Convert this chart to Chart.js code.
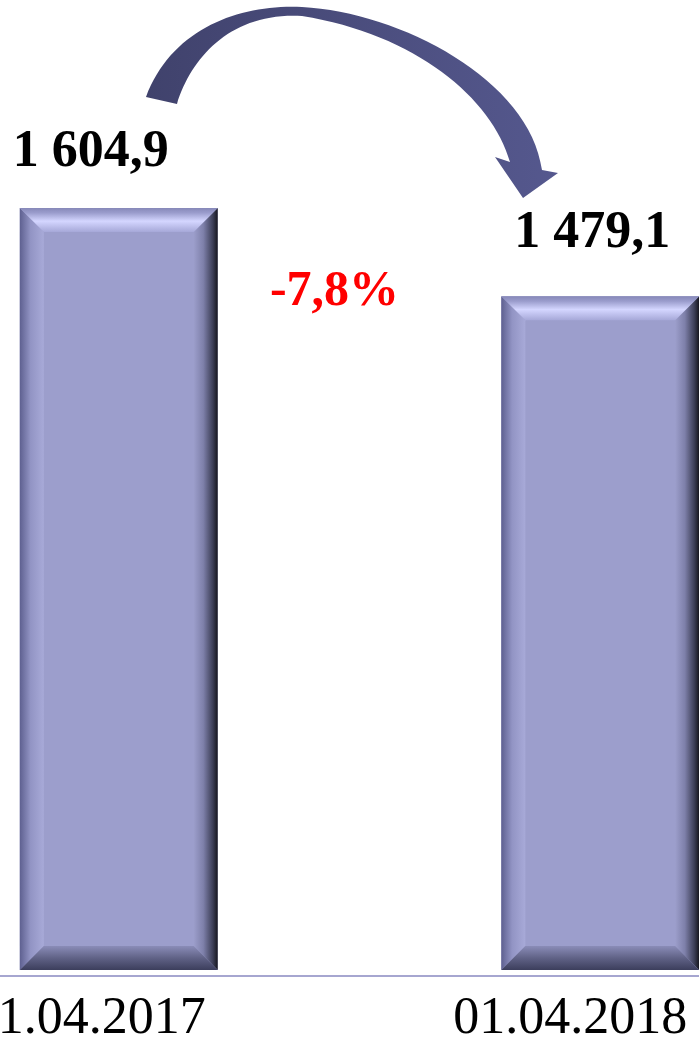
<!DOCTYPE html>
<html>
<head>
<meta charset="utf-8">
<script src="https://cdn.jsdelivr.net/npm/chart.js@4/dist/chart.umd.min.js"></script>
<style>
  html, body { margin: 0; padding: 0; background: #fff; overflow: hidden; width: 699px; height: 1043px; }
  #wrap { position: absolute; left: -122px; top: 0; }
</style>
</head>
<body>
<div id="wrap"><canvas id="chart" width="963" height="1068"></canvas></div>
<script>
// Данные
const dates = ['01.04.2017', '01.04.2018'];
const values = [1604.9, 1479.1];
const yRange = [520, 1901];

const SHIFT = 122; // canvas starts left of the visible page

function fmt(v) {
    const parts = v.toFixed(1).split('.');
    return parts[0].replace(/\B(?=(\d{3})+(?!\d))/g, ' ') + ',' + parts[1];
}

// bevel on every bar
const bevelPlugin = {
    id: 'bevel',
    afterDatasetsDraw(chart) {
        const ctx = chart.ctx;
        const b = 24;
        const area = chart.chartArea;
        chart.getDatasetMeta(0).data.forEach(bar => {
            const l = bar.x - bar.width / 2, r = bar.x + bar.width / 2;
            const t = bar.y, bot = Math.min(bar.base, area.bottom);
            ctx.save();
            let g;
            // left
            g = ctx.createLinearGradient(l, 0, l + b, 0);
            g.addColorStop(0, '#5e6090');
            g.addColorStop(0.45, '#9294c4');
            g.addColorStop(1, '#a8aad8');
            ctx.fillStyle = g;
            ctx.beginPath();
            ctx.moveTo(l, t); ctx.lineTo(l + b, t + b); ctx.lineTo(l + b, bot - b); ctx.lineTo(l, bot);
            ctx.closePath(); ctx.fill();
            // right
            g = ctx.createLinearGradient(r - b, 0, r, 0);
            g.addColorStop(0, '#9c9ecb');
            g.addColorStop(0.4, '#7e80aa');
            g.addColorStop(0.8, '#3c3e56');
            g.addColorStop(1, '#16161d');
            ctx.fillStyle = g;
            ctx.beginPath();
            ctx.moveTo(r, t); ctx.lineTo(r - b, t + b); ctx.lineTo(r - b, bot - b); ctx.lineTo(r, bot);
            ctx.closePath(); ctx.fill();
            // top
            g = ctx.createLinearGradient(0, t, 0, t + b);
            g.addColorStop(0, '#8688b8');
            g.addColorStop(0.2, '#9a9ccc');
            g.addColorStop(0.55, '#d4d6ff');
            g.addColorStop(1, '#a6a8d8');
            ctx.fillStyle = g;
            ctx.beginPath();
            ctx.moveTo(l, t); ctx.lineTo(r, t); ctx.lineTo(r - b, t + b); ctx.lineTo(l + b, t + b);
            ctx.closePath(); ctx.fill();
            // bottom
            g = ctx.createLinearGradient(0, bot - b, 0, bot);
            g.addColorStop(0, '#8a8cb8');
            g.addColorStop(0.5, '#606286');
            g.addColorStop(1, '#3c3e5c');
            ctx.fillStyle = g;
            ctx.beginPath();
            ctx.moveTo(l, bot); ctx.lineTo(r, bot); ctx.lineTo(r - b, bot - b); ctx.lineTo(l + b, bot - b);
            ctx.closePath(); ctx.fill();
            ctx.restore();
        });
    }
};

// подписи, стрелка, линия оси
const notesPlugin = {
    id: 'notes',
    afterDraw(chart) {
        const ctx = chart.ctx;
        const bars = chart.getDatasetMeta(0).data;
        const area = chart.chartArea;
        ctx.save();

        // axis line
        ctx.strokeStyle = '#a6a6d0';
        ctx.lineWidth = 2;
        ctx.beginPath();
        ctx.moveTo(area.left, area.bottom + 6);
        ctx.lineTo(area.right, area.bottom + 6);
        ctx.stroke();

        // values above bars
        const offs = [[-28, -42], [-8, -49]];
        ctx.font = 'bold 52px "Liberation Serif"';
        ctx.fillStyle = '#000';
        ctx.textAlign = 'center';
        ctx.textBaseline = 'alphabetic';
        bars.forEach((bar, i) => {
            ctx.fillText(fmt(values[i]), bar.x + offs[i][0], bar.y + offs[i][1]);
        });

        // change, %
        const pct = (values[1] / values[0] - 1) * 100;
        ctx.font = 'bold 50px "Liberation Serif"';
        ctx.fillStyle = '#ff0000';
        ctx.fillText(pct.toFixed(1).replace('.', ',') + '%', (bars[0].x + bars[1].x) / 2 - 25, bars[1].y + 9);

        // curved arrow (page coordinates)
        ctx.translate(SHIFT, 0);
        const g = ctx.createLinearGradient(146, 0, 558, 0);
        g.addColorStop(0, '#40426c');
        g.addColorStop(1, '#55588e');
        ctx.fillStyle = g;
        ctx.beginPath();
        ctx.moveTo(146, 97);
        ctx.bezierCurveTo(172, 28, 240, 4, 302, 7);
        ctx.bezierCurveTo(400, 12, 530, 80, 542, 170);
        ctx.lineTo(558, 173);
        ctx.lineTo(523, 198);
        ctx.lineTo(495, 157);
        ctx.lineTo(510, 162);
        ctx.bezierCurveTo(492, 98, 415, 34, 302, 16);
        ctx.bezierCurveTo(232, 12, 192, 56, 177, 104);
        ctx.closePath();
        ctx.fill();
        ctx.restore();
    }
};

new Chart(document.getElementById('chart'), {
    type: 'bar',
    data: {
        labels: dates,
        datasets: [{
            data: values,
            backgroundColor: '#9c9ecc',
            borderWidth: 0,
            categoryPercentage: 1,
            barPercentage: 0.411
        }]
    },
    options: {
        responsive: false,
        animation: false,
        layout: { padding: 0 },
        plugins: {
            legend: { display: false },
            tooltip: { enabled: false }
        },
        scales: {
            x: {
                grid: { display: false, drawTicks: false },
                border: { display: false },
                ticks: {
                    color: '#000',
                    padding: 23,
                    labelOffset: -30,
                    font: { family: '"Liberation Serif"', size: 52, lineHeight: 1 }
                }
            },
            y: {
                display: false,
                min: yRange[0],
                max: yRange[1]
            }
        }
    },
    plugins: [bevelPlugin, notesPlugin]
});
</script>
</body>
</html>
